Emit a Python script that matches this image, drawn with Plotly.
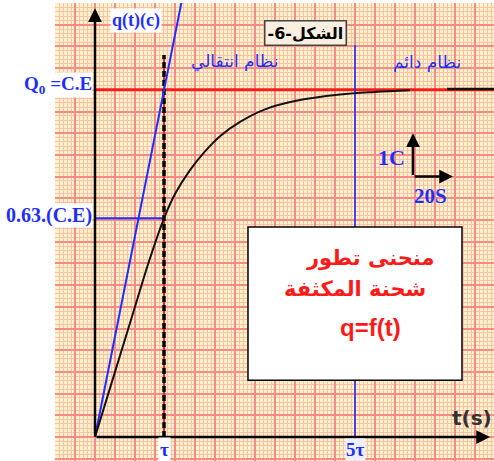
import plotly.graph_objects as go

# ---- data (t in s, q in C) ----
Q0 = 8.0                      # Q0 = C.E
TAU = 34.5                    # time constant
T5 = 130.0                    # drawn position of 5 tau
Q63 = 5.04                    # 0.63.(C.E)
t_curve = [0, 10, 20, 27, 34.5, 40, 47.5, 55, 62.5, 72.5, 85, 100, 122.5, 140, 157.5]
q_curve = [0, 1.5, 3.0, 4.05, 5.04, 5.6, 6.15, 6.58, 6.93, 7.26, 7.55, 7.74, 7.89, 7.95, 7.99]
t_tail = [176, 199.5]
q_tail = [8.02, 8.02]
t_tangent = [0, TAU, 43.6]
q_tangent = [0, Q0, 10.1]
scale_origin = (159, 6.0)
scale_dt = 20
scale_dq = 1

T_MIN, T_MAX = -20, 199.5
Q_MIN, Q_MAX = -0.553, 10.0

BLUE = "#1f2fff"
RED = "#ff1a1a"
SERIF = "Liberation Serif, Times New Roman, serif"
ARAB = "DejaVu Sans, sans-serif"

fig = go.Figure()

# red Q0 line
fig.add_trace(go.Scatter(x=[0, T_MAX], y=[Q0, Q0], mode="lines",
                         line=dict(color=RED, width=3), hoverinfo="skip"))
# 0.63 line
fig.add_trace(go.Scatter(x=[0, TAU], y=[Q63, Q63], mode="lines",
                         line=dict(color=BLUE, width=2), hoverinfo="skip"))
# tau dashed (red under black dashes)
fig.add_trace(go.Scatter(x=[TAU, TAU], y=[0, 8.8], mode="lines",
                         line=dict(color=RED, width=2), hoverinfo="skip"))
fig.add_trace(go.Scatter(x=[TAU, TAU], y=[0, 8.8], mode="lines",
                         line=dict(color="black", width=3.5, dash="6px,3px"), hoverinfo="skip"))
# 5 tau line
fig.add_trace(go.Scatter(x=[T5, T5], y=[0, 9.03], mode="lines",
                         line=dict(color=BLUE, width=1.6), hoverinfo="skip"))
# tangent
fig.add_trace(go.Scatter(x=t_tangent, y=q_tangent, mode="lines",
                         line=dict(color=BLUE, width=2), hoverinfo="skip"))
# charge curve
fig.add_trace(go.Scatter(x=t_curve, y=q_curve, mode="lines",
                         line=dict(color="#111111", width=2, shape="spline", smoothing=1.0),
                         hoverinfo="skip"))
fig.add_trace(go.Scatter(x=t_tail, y=q_tail, mode="lines",
                         line=dict(color="#111111", width=2.5), hoverinfo="skip"))

# white box
fig.add_shape(type="rect", x0=76.5, x1=183.5, y0=1.31, y1=4.84,
              line=dict(color="black", width=1.5), fillcolor="white", layer="above")

ann = []
def arrow(x0, y0, x1, y1, w=2.5):
    ann.append(dict(x=x1, y=y1, ax=x0, ay=y0, xref="x", yref="y", axref="x", ayref="y",
                    showarrow=True, arrowhead=2, arrowsize=1.1, arrowwidth=w,
                    arrowcolor="black", text=""))

# axes
arrow(0, 0, 0, 9.88)
arrow(0, 0, 197.5, 0)
# scale indicator
arrow(scale_origin[0], scale_origin[1], scale_origin[0], scale_origin[1] + scale_dq)
arrow(scale_origin[0], scale_origin[1], scale_origin[0] + scale_dt, scale_origin[1])

def txt(x, y, s, size, color, family, bold=True, xanchor="center", bg=None, border=None, **kw):
    d = dict(x=x, y=y, xref="x", yref="y", text=("<b>%s</b>" % s) if bold else s,
             showarrow=False, xanchor=xanchor, yanchor="middle",
             font=dict(size=size, color=color, family=family))
    if bg:
        d["bgcolor"] = bg
    if border:
        d["bordercolor"] = border
        d["borderwidth"] = 1.5
    d.update(kw)
    ann.append(d)

txt(20.5, 9.6, "q(t)(c)", 18, BLUE, SERIF, bg="white")
txt(-1, 8.12, "Q<sub>0</sub> =C.E", 19, BLUE, SERIF, xanchor="right", bg="white", borderpad=0)
txt(-1, 5.1, "0.63.(C.E)", 20, BLUE, SERIF, xanchor="right", bg="white", borderpad=0)
txt(TAU, -0.28, "τ", 19, BLUE, SERIF, bg="white", borderpad=1)
txt(T5, -0.28, "5τ", 19, BLUE, SERIF, bg="#eef0ff", borderpad=0)
txt(105, 9.31, "-6-الشكل", 16, "black", ARAB, bg="#fbefe2", border="#444444", borderpad=2)
txt(70, 8.66, "نظام انتقالي", 17, BLUE, ARAB, bold=False)
txt(166, 8.62, "نظام دائم", 17, BLUE, ARAB, bold=False)
txt(148, 6.43, "1C", 22, BLUE, SERIF)
txt(167.5, 5.55, "20S", 21, BLUE, SERIF)
txt(137.5, 4.12, "منحنى تطور", 21, RED, ARAB)
txt(130, 3.42, "شحنة المكثفة", 21, RED, ARAB)
txt(137.5, 2.53, "q=f(t)", 24, RED, "Liberation Sans, Arial, sans-serif")
txt(188.5, 0.44, "t(s)", 20, "#333333", "DejaVu Sans, sans-serif")

fig.update_layout(
    width=494, height=461,
    margin=dict(l=55, r=0, t=3, b=0),
    paper_bgcolor="white", plot_bgcolor="#fff3c6",
    showlegend=False, annotations=ann,
    xaxis=dict(range=[T_MIN, T_MAX], showticklabels=False, zeroline=False, showline=False,
               tick0=0, dtick=10, showgrid=True, gridcolor="#fa8a8a", gridwidth=1.6,
               minor=dict(tick0=0, dtick=2, showgrid=True, gridcolor="#fbc0ae", gridwidth=1),
               fixedrange=True),
    yaxis=dict(range=[Q_MIN, Q_MAX], showticklabels=False, zeroline=False, showline=False,
               tick0=0, dtick=0.5, showgrid=True, gridcolor="#fa8a8a", gridwidth=1.6,
               minor=dict(tick0=0, dtick=0.1, showgrid=True, gridcolor="#fbc0ae", gridwidth=1),
               fixedrange=True),
)

fig.write_html("out.html", config={"displayModeBar": False},
               post_script="document.body.style.margin='0px';document.body.style.overflow='hidden';")
